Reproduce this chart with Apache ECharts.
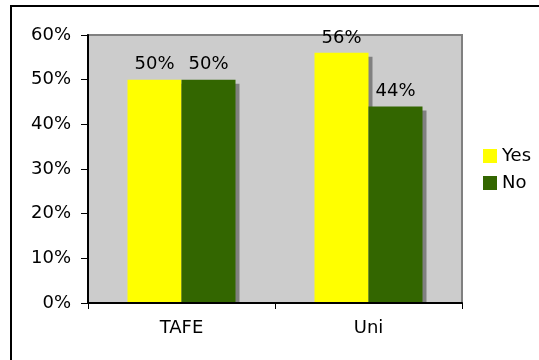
<!DOCTYPE html>
<html>
<head>
<meta charset="utf-8">
<script src="https://cdn.jsdelivr.net/npm/echarts@6/dist/echarts.min.js"></script>
<style>
  html, body { margin: 0; padding: 0; background: #ffffff; }
  #chart { width: 539px; height: 360px; }
</style>
</head>
<body>
<div id="chart"></div>
<script>
// Share of respondents answering Yes / No, by institution type
const categories = ['TAFE', 'Uni'];
const yesValues = [50, 56];
const noValues = [50, 44];
const seriesNames = ['Yes', 'No'];
const yTicks = [0, 10, 20, 30, 40, 50, 60];

const FONT = 'DejaVu Sans';
const chart = echarts.init(document.getElementById('chart'), null, { renderer: 'canvas' });

const barStyle = (color) => ({
  color: color,
  shadowColor: '#808080',
  shadowBlur: 0,
  shadowOffsetX: 4,
  shadowOffsetY: 4
});

const valueLabel = {
  show: true,
  position: 'top',
  distance: 6,
  formatter: '{c}%',
  color: '#000000',
  fontFamily: FONT,
  fontSize: 18
};

chart.setOption({
  animation: false,
  backgroundColor: '#ffffff',
  textStyle: { fontFamily: FONT },
  grid: {
    left: 88, top: 35, right: 77, bottom: 57,
    show: true,
    backgroundColor: '#CCCCCC',
    borderColor: '#808080',
    borderWidth: 2,
    containLabel: false
  },
  legend: {
    orient: 'vertical',
    left: 483,
    top: 147,
    padding: 0,
    itemWidth: 14,
    itemHeight: 14,
    itemGap: 9,
    icon: 'rect',
    data: seriesNames,
    textStyle: { fontFamily: FONT, fontSize: 18, color: '#000000' },
    itemStyle: { shadowBlur: 0, shadowOffsetX: 0, shadowOffsetY: 0, shadowColor: 'rgba(0,0,0,0)' }
  },
  xAxis: {
    type: 'category',
    data: categories,
    z: 10,
    axisLine: { lineStyle: { color: '#000000', width: 2 } },
    axisTick: { show: true, length: 6, lineStyle: { color: '#000000', width: 1 } },
    axisLabel: { color: '#000000', fontFamily: FONT, fontSize: 18, margin: 16 },
    splitLine: { show: false }
  },
  yAxis: {
    type: 'value',
    min: yTicks[0],
    max: yTicks[yTicks.length - 1],
    interval: yTicks[1] - yTicks[0],
    z: 10,
    axisLine: { show: true, lineStyle: { color: '#000000', width: 2 } },
    axisTick: { show: true, length: 7, lineStyle: { color: '#000000', width: 1 } },
    axisLabel: { color: '#000000', fontFamily: FONT, fontSize: 18, margin: 17, formatter: '{value}%' },
    splitLine: { show: false }
  },
  graphic: [
    {
      // outer chart frame
      type: 'rect',
      z: 0,
      silent: true,
      shape: { x: 11, y: 6, width: 540, height: 370 },
      style: { fill: 'none', stroke: '#000000', lineWidth: 2 }
    },
    {
      // keep bar shadows from spilling below the baseline
      type: 'rect',
      z: 5,
      silent: true,
      shape: { x: 89, y: 304, width: 380, height: 6 },
      style: { fill: '#ffffff' }
    }
  ],
  series: [
    {
      name: seriesNames[0],
      type: 'bar',
      data: yesValues,
      barWidth: 54,
      barGap: '0%',
      itemStyle: barStyle('#FFFF00'),
      label: valueLabel
    },
    {
      name: seriesNames[1],
      type: 'bar',
      data: noValues,
      barWidth: 54,
      barGap: '0%',
      itemStyle: barStyle('#336600'),
      label: valueLabel
    }
  ]
});
</script>
</body>
</html>
